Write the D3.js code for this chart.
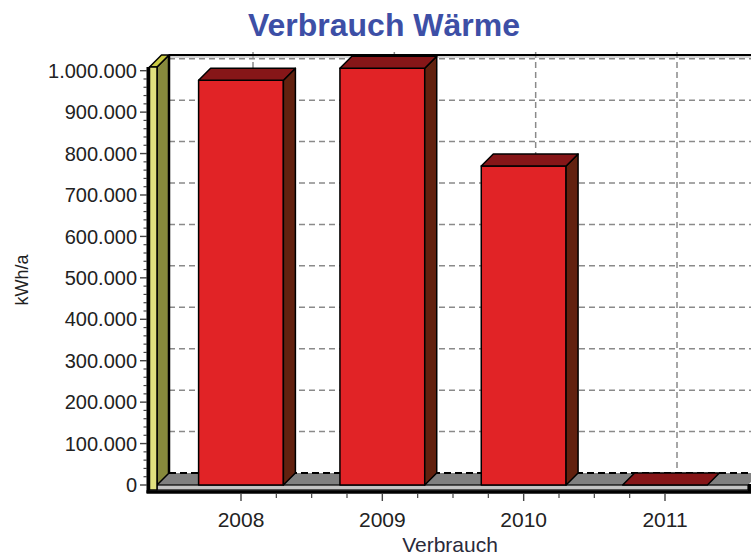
<!DOCTYPE html>
<html>
<head>
<meta charset="utf-8">
<script src="https://cdn.jsdelivr.net/npm/d3@7/dist/d3.min.js"></script>
<style>
  html, body { margin: 0; padding: 0; background: #fff; }
  svg { display: block; font-family: "Liberation Sans", Arial, sans-serif; }
</style>
</head>
<body>
<svg id="chart" width="751" height="558"></svg>
<script>
// Heat consumption per year (kWh/a)
const years = ["2008", "2009", "2010", "2011"];
const consumption = [977000, 1006000, 770000, 0];
const yTicks = [0, 100000, 200000, 300000, 400000, 500000, 600000, 700000, 800000, 900000, 1000000];
const titleText = "Verbrauch Wärme";
const yTitle = "kWh/a";
const xTitle = "Verbrauch";

const svg = d3.select("#chart");

// 3D depth offset of the back plane
const DX = 12, DY = -12;

const y = d3.scaleLinear().domain([0, 1000000]).range([485, 70.7]);
const yMaxVal = 1009000;
const x = d3.scalePoint().domain(years).range([241, 665]);
const step = x.step();
const barW = step * 0.6;

const frontLeft = 157, frontRight = 748;
const y0 = y(0), yTop = y(yMaxVal);
const fmt = v => d3.format(",")(v).replace(/,/g, ".");

// back wall
const back = svg.append("g");
back.append("rect")
  .attr("x", frontLeft + DX).attr("y", yTop + DY)
  .attr("width", 751 - frontLeft - DX).attr("height", y0 - yTop)
  .attr("fill", "#fff");

// horizontal grid on the back wall
back.selectAll("line.hg").data(yTicks.filter(d => d > 0)).join("line")
  .attr("x1", frontLeft + DX).attr("x2", 751)
  .attr("y1", d => y(d) + DY).attr("y2", d => y(d) + DY)
  .attr("stroke", "#8a8a8a").attr("stroke-width", 1.5)
  .attr("stroke-dasharray", "6,4");

// vertical grid on the back wall
back.selectAll("line.vg").data(years).join("line")
  .attr("x1", d => x(d) + DX).attr("x2", d => x(d) + DX)
  .attr("y1", yTop + DY - 3).attr("y2", y0 + DY)
  .attr("stroke", "#8a8a8a").attr("stroke-width", 1.5)
  .attr("stroke-dasharray", "6,4");

// top edge of the back wall
back.append("line")
  .attr("x1", frontLeft + DX).attr("x2", 751)
  .attr("y1", yTop + DY).attr("y2", yTop + DY)
  .attr("stroke", "#000").attr("stroke-width", 2);
back.append("line")
  .attr("x1", frontLeft + DX).attr("x2", 751)
  .attr("y1", yTop + DY + 2).attr("y2", yTop + DY + 2)
  .attr("stroke", "#aaa").attr("stroke-width", 1);

// floor
const floor = svg.append("g");
floor.append("polygon")
  .attr("points", [[frontLeft, y0], [frontRight, y0], [frontRight + DX, y0 + DY], [frontLeft + DX, y0 + DY]].join(" "))
  .attr("fill", "#808080");
floor.append("line")
  .attr("x1", frontLeft + DX).attr("x2", 751)
  .attr("y1", y0 + DY).attr("y2", y0 + DY)
  .attr("stroke", "#000").attr("stroke-width", 2)
  .attr("stroke-dasharray", "7,4");
floor.append("rect")
  .attr("x", frontLeft).attr("y", y0)
  .attr("width", frontRight - frontLeft).attr("height", 5)
  .attr("fill", "#c4c4c4").attr("stroke", "#000").attr("stroke-width", 1.2);

// left wall
const wall = svg.append("g").attr("stroke", "#000").attr("stroke-width", 1.5).attr("stroke-linejoin", "round");
const wallL = 149.5;
wall.append("polygon")
  .attr("points", [[frontLeft, yTop], [frontLeft + DX, yTop + DY], [frontLeft + DX, y0 + DY], [frontLeft, y0]].join(" "))
  .attr("fill", "#878a3c");
wall.append("polygon")
  .attr("points", [[wallL, yTop], [wallL + DX, yTop + DY], [frontLeft + DX, yTop + DY], [frontLeft, yTop]].join(" "))
  .attr("fill", "#c9c943");
wall.append("rect")
  .attr("x", wallL).attr("y", yTop)
  .attr("width", frontLeft - wallL).attr("height", y0 + 5 - yTop)
  .attr("fill", "#e0e07e");
svg.append("line")
  .attr("x1", frontLeft + DX).attr("x2", frontLeft + DX)
  .attr("y1", yTop + DY).attr("y2", y0 + DY)
  .attr("stroke", "#000").attr("stroke-width", 2.5);

// bars
const data = years.map((k, i) => ({ year: k, value: consumption[i] }));
const bars = svg.append("g").attr("stroke", "#000").attr("stroke-width", 1.5).attr("stroke-linejoin", "round");
data.forEach(d => {
  const cx = x(d.year);
  const x0 = cx - barW / 2, x1 = cx + barW / 2;
  const yt = y(d.value);
  const g = bars.append("g");
  if (d.value > 0) {
    g.append("rect")
      .attr("x", x0).attr("y", yt)
      .attr("width", barW).attr("height", y0 - yt)
      .attr("fill", "#e12326");
    g.append("polygon")
      .attr("points", [[x1, yt], [x1 + DX, yt + DY], [x1 + DX, y0 + DY], [x1, y0]].join(" "))
      .attr("fill", "#62210f");
  }
  g.append("polygon")
    .attr("points", [[x0, yt], [x0 + DX, yt + DY], [x1 + DX, yt + DY], [x1, yt]].join(" "))
    .attr("fill", "#861618");
});

// value axis (front)
const axY = svg.append("g");
axY.append("line")
  .attr("x1", 148).attr("x2", 148)
  .attr("y1", yTop).attr("y2", y0 + 8)
  .attr("stroke", "#000").attr("stroke-width", 3);
const minorY = d3.range(0, 1000001, 20000).filter(v => v % 100000 !== 0);
axY.selectAll("line.mn").data(minorY).join("line")
  .attr("x1", 143.5).attr("x2", 147)
  .attr("y1", d => y(d)).attr("y2", d => y(d))
  .attr("stroke", "#444").attr("stroke-width", 1.2);
axY.selectAll("line.mj").data(yTicks).join("line")
  .attr("x1", 140).attr("x2", 147)
  .attr("y1", d => y(d)).attr("y2", d => y(d))
  .attr("stroke", "#444").attr("stroke-width", 1.4);
axY.selectAll("text").data(yTicks).join("text")
  .attr("x", 137).attr("y", d => y(d)).attr("dy", "0.36em")
  .attr("text-anchor", "end")
  .attr("font-size", 20).attr("fill", "#222")
  .text(fmt);

// category axis (front)
const axX = svg.append("g");
axX.append("line")
  .attr("x1", 146.5).attr("x2", 751)
  .attr("y1", y0 + 7).attr("y2", y0 + 7)
  .attr("stroke", "#000").attr("stroke-width", 3.5);
axX.append("line")
  .attr("x1", frontRight + 1.5).attr("x2", frontRight + 1.5)
  .attr("y1", y0 - 1).attr("y2", y0 + 8)
  .attr("stroke", "#000").attr("stroke-width", 3);
const minorX = [];
years.slice(0, -1).forEach(k => { for (let j = 1; j < 4; j++) minorX.push(x(k) + step * j / 4); });
axX.selectAll("line.mn").data(minorX).join("line")
  .attr("x1", d => d).attr("x2", d => d)
  .attr("y1", y0 + 9).attr("y2", y0 + 13)
  .attr("stroke", "#444").attr("stroke-width", 1.2);
axX.selectAll("line.mj").data(years).join("line")
  .attr("x1", d => x(d)).attr("x2", d => x(d))
  .attr("y1", y0 + 9).attr("y2", y0 + 16)
  .attr("stroke", "#444").attr("stroke-width", 1.4);
axX.selectAll("text").data(years).join("text")
  .attr("x", d => x(d)).attr("y", 527)
  .attr("text-anchor", "middle")
  .attr("font-size", 21).attr("fill", "#222")
  .text(d => d);

// titles
svg.append("text")
  .attr("x", 384).attr("y", 36)
  .attr("text-anchor", "middle")
  .attr("font-size", 32).attr("font-weight", "bold")
  .attr("fill", "#3d4fa6")
  .text(titleText);
svg.append("text")
  .attr("transform", "translate(28,280) rotate(-90)")
  .attr("text-anchor", "middle")
  .attr("font-size", 18).attr("fill", "#222")
  .text(yTitle);
svg.append("text")
  .attr("x", 450).attr("y", 552)
  .attr("text-anchor", "middle")
  .attr("font-size", 21).attr("fill", "#2a2a3a")
  .text(xTitle);
</script>
</body>
</html>
